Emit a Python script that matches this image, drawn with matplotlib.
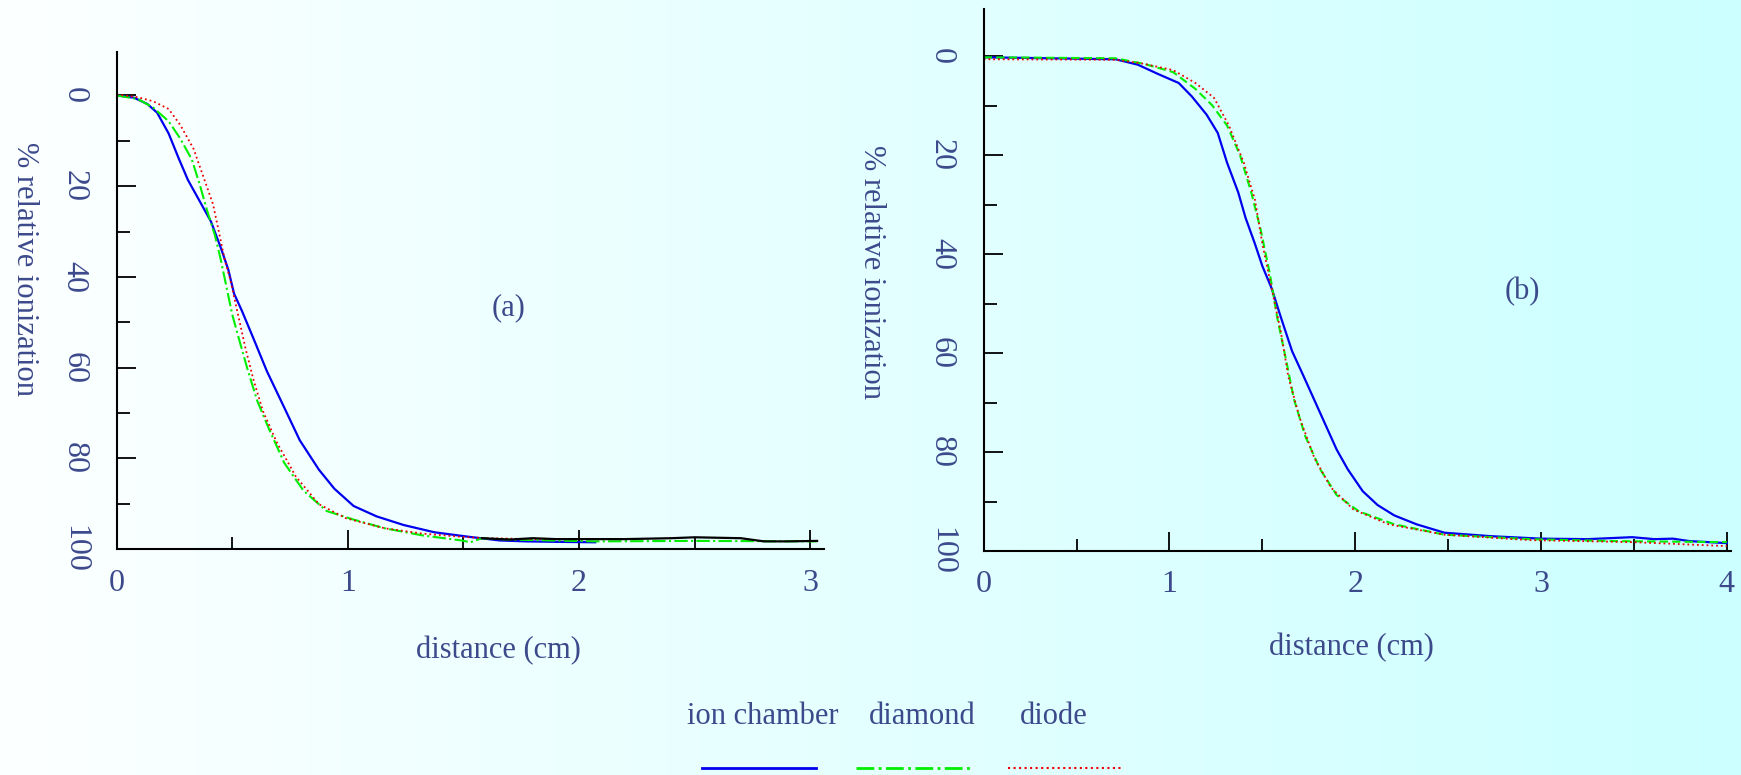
import numpy as np
import matplotlib
matplotlib.use("Agg")
import matplotlib.pyplot as plt
from matplotlib.lines import Line2D
from matplotlib.ticker import MultipleLocator

plt.rcParams['font.family'] = ['Liberation Serif', 'DejaVu Serif']
TXT = '#3c4a8c'
FS = 22
TFS = 23

# ---- panel (a) data: distance (cm) vs % relative ionization ----
a_ion_x = [0, 0.075, 0.133, 0.175, 0.225, 0.267, 0.308, 0.358, 0.408, 0.45, 0.483, 0.508,
           0.542, 0.592, 0.65, 0.725, 0.792, 0.875, 0.942, 1.025, 1.125, 1.242, 1.375,
           1.525, 1.658, 1.77, 1.9, 2.07]
a_ion_y = [0, 0.5, 1.9, 3.8, 8.4, 13.7, 18.6, 23.2, 27.8, 33.5, 38.4, 43.7,
           47.5, 53.6, 60.8, 68.8, 76.0, 82.5, 86.7, 90.5, 92.8, 94.7, 96.3,
           97.3, 98.1, 98.3, 98.4, 98.5]
a_dia_x = [0, 0.092, 0.158, 0.225, 0.275, 0.325, 0.358, 0.392, 0.425, 0.45, 0.475, 0.5,
           0.533, 0.567, 0.608, 0.658, 0.725, 0.808, 0.908, 1.025, 1.158, 1.325, 1.492,
           1.53, 1.58, 1.7, 2.07, 2.5, 3.03]
a_dia_y = [0, 0.8, 2.7, 5.7, 9.5, 14.1, 19.4, 25.5, 30.8, 36.1, 42.2, 48.3,
           54.4, 60.5, 67.3, 73.4, 81.0, 87.1, 91.6, 93.5, 95.4, 97.0, 98.1,
           98.5, 97.6, 97.9, 98.3, 98.2, 98.3]
a_dio_x = [0, 0.092, 0.158, 0.225, 0.275, 0.333, 0.375, 0.417, 0.442, 0.467, 0.492, 0.525,
           0.558, 0.592, 0.633, 0.692, 0.775, 0.875, 0.992, 1.158, 1.325, 1.492, 1.6,
           1.8, 2.1]
a_dio_y = [-0.2, 0.4, 1.3, 3.0, 6.5, 11.8, 17.9, 24.0, 30.0, 36.1, 40.7, 48.3,
           55.9, 62.7, 69.6, 76.4, 84.0, 90.1, 93.2, 95.4, 96.6, 97.3, 97.6,
           97.8, 97.8]
a_tail_x = [1.58, 1.7, 1.8, 1.9, 2.0, 2.2, 2.4, 2.5, 2.6, 2.7, 2.8, 2.9, 3.03]
a_tail_y = [97.6, 97.9, 97.6, 97.8, 97.8, 97.8, 97.6, 97.4, 97.5, 97.6, 98.3, 98.3, 98.2]

# ---- panel (b) data ----
b_ion_x = [0, 0.71, 0.83, 0.94, 1.05, 1.12, 1.2, 1.26, 1.31, 1.37, 1.41, 1.46, 1.5, 1.55,
           1.6, 1.66, 1.72, 1.78, 1.84, 1.9, 1.96, 2.04, 2.12, 2.21, 2.33, 2.48, 2.73,
           3.0, 3.25, 3.49, 3.61, 3.71, 3.8, 4.0]
b_ion_y = [0.2, 0.6, 1.7, 3.6, 5.4, 8.1, 11.8, 15.5, 21.5, 27.5, 32.7, 37.9, 42.4, 46.9,
           52.8, 59.6, 64.5, 69.5, 74.5, 79.5, 83.5, 87.9, 90.7, 92.8, 94.6, 96.3, 97.0,
           97.5, 97.6, 97.2, 97.6, 97.5, 98.0, 98.4]
b_dia_x = [0, 0.71, 0.86, 1.02, 1.14, 1.23, 1.31, 1.38, 1.44, 1.49, 1.54, 1.58, 1.63,
           1.67, 1.73, 1.81, 1.9, 2.02, 2.21, 2.48, 2.94, 3.4, 4.0]
b_dia_y = [0.2, 0.4, 1.5, 3.2, 6.6, 9.9, 14.0, 20.0, 27.5, 34.9, 43.9, 52.8, 61.8,
           69.3, 76.7, 83.4, 88.7, 92.0, 94.6, 96.7, 97.6, 98.0, 98.2]
b_dio_x = [0, 0.71, 0.86, 1.02, 1.14, 1.24, 1.32, 1.4, 1.46, 1.5, 1.55, 1.6, 1.64,
           1.7, 1.78, 1.87, 1.99, 2.18, 2.48, 2.94, 3.49, 4.0]
b_dio_y = [0.6, 0.7, 1.5, 2.8, 5.4, 8.4, 14.0, 21.5, 29.0, 37.9, 46.9, 55.8, 64.8,
           73.0, 81.2, 87.2, 91.6, 94.6, 96.7, 97.8, 98.2, 99.0]

labels = ['ion chamber', 'diamond', 'diode']

fig = plt.figure(figsize=(17.41, 7.75), dpi=100)

# background gradient white -> light cyan
bg = fig.add_axes([0, 0, 1, 1], zorder=-10)
grad = np.linspace(0, 1, 256)
img = np.zeros((2, 256, 3))
img[:, :, 0] = 0.99 - 0.19 * grad
img[:, :, 1] = 1.0
img[:, :, 2] = 1.0
bg.imshow(img, aspect='auto', extent=[0, 1, 0, 1])
bg.axis('off')


def style_axes(ax, xmax):
    ax.set_facecolor('none')
    ax.set_xlim(0, xmax)
    ax.set_ylim(100, -9.5)
    for s in ['top', 'right']:
        ax.spines[s].set_visible(False)
    for s in ['left', 'bottom']:
        ax.spines[s].set_linewidth(1.5)
    ax.xaxis.set_major_locator(MultipleLocator(1))
    ax.xaxis.set_minor_locator(MultipleLocator(0.5))
    ax.yaxis.set_major_locator(MultipleLocator(20))
    ax.yaxis.set_minor_locator(MultipleLocator(10))
    ax.tick_params(which='major', direction='in', length=14, width=1.3,
                   labelsize=TFS, labelcolor=TXT)
    ax.tick_params(which='minor', direction='in', length=9, width=1.3)
    ax.tick_params(axis='x', pad=14)
    ax.tick_params(axis='y', pad=20, labelrotation=270)
    for t in ax.get_yticklabels():
        t.set_va('center')


axa = fig.add_axes([0.067, 0.2915, 0.4063, 0.641])
style_axes(axa, 3.06)
axa.plot(a_ion_x, a_ion_y, color='#0000ee', lw=1.6, ls='-')
axa.plot(a_dia_x, a_dia_y, color='#00ee00', lw=1.5, ls='-.')
axa.plot(a_dio_x, a_dio_y, color='#ee0000', lw=1.3, ls=':')
axa.plot(a_tail_x, a_tail_y, color='black', lw=1.6, ls='-')
axa.text(1.695, 46.7, '(a)', fontsize=FS, color=TXT, ha='center', va='center')
axa.set_xlabel('distance (cm)', fontsize=FS, color=TXT)
axa.xaxis.set_label_coords(0.54, -0.175)
axa.set_ylabel('% relative ionization', fontsize=FS, color=TXT, rotation=270, va='center')
axa.yaxis.set_label_coords(-0.130, 0.563)

axb = fig.add_axes([0.565, 0.289, 0.429, 0.699])
style_axes(axb, 4.02)
axb.plot(b_ion_x, b_ion_y, color='#0000ee', lw=1.6, ls='-')
axb.plot(b_dia_x, b_dia_y, color='#00ee00', lw=1.5, ls='--', dashes=(4, 2))
axb.plot(b_dio_x, b_dio_y, color='#ee0000', lw=1.3, ls=':')
axb.text(2.9, 47.5, '(b)', fontsize=FS, color=TXT, ha='center', va='center')
axb.set_xlabel('distance (cm)', fontsize=FS, color=TXT)
axb.xaxis.set_label_coords(0.493, -0.152)
axb.set_ylabel('% relative ionization', fontsize=FS, color=TXT, rotation=270, va='center')
axb.yaxis.set_label_coords(-0.150, 0.515)

# legend: labels above line samples
W, H = 1741.0, 775.0
leg_text_x = [763, 922, 1054]
leg_line_x = [(702, 816), (856, 970), (1008, 1122)]
leg_styles = [dict(color='#0000ee', lw=2.0, ls='-'),
              dict(color='#00ee00', lw=2.0, ls='-.'),
              dict(color='#ee0000', lw=1.5, ls=':')]
for lab, tx, (x0, x1), st in zip(labels, leg_text_x, leg_line_x, leg_styles):
    fig.text(tx / W, 1 - 717 / H, lab, fontsize=FS, color=TXT, ha='center', va='center')
    fig.add_artist(Line2D([x0 / W, x1 / W], [1 - 768 / H, 1 - 768 / H], **st))

plt.savefig('out.png', dpi=100)
